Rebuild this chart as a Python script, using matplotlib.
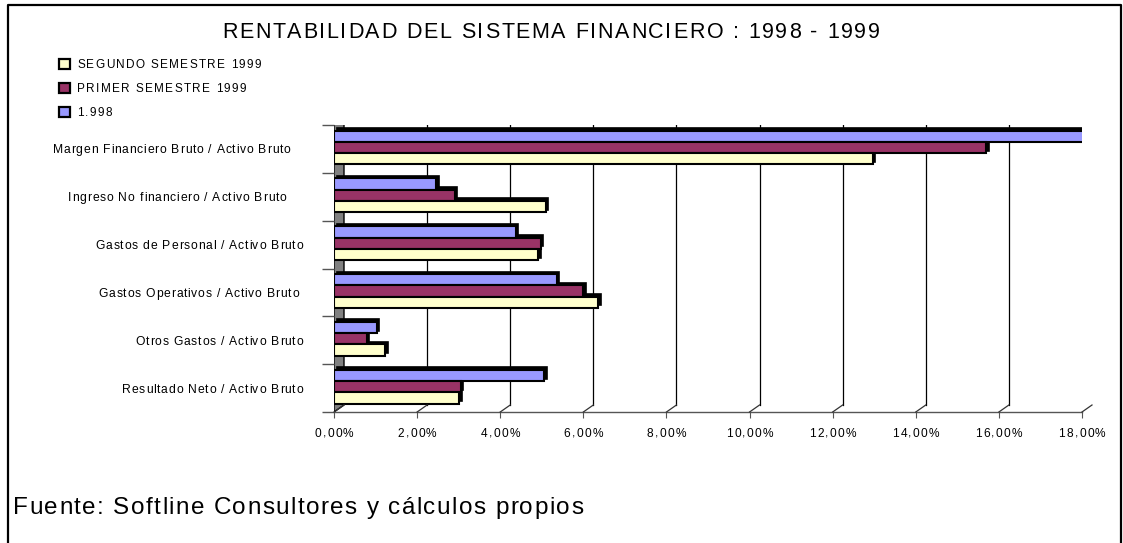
import matplotlib
matplotlib.use("Agg")
from matplotlib import pyplot as plt
from matplotlib.transforms import ScaledTranslation
from matplotlib.font_manager import FontProperties
import matplotlib.patches as mpatches
import numpy as np

categories = [
    "Margen Financiero Bruto / Activo Bruto   ",
    "Ingreso No financiero / Activo Bruto    ",
    "Gastos de Personal / Activo Bruto",
    "Gastos Operativos / Activo Bruto ",
    "Otros Gastos / Activo Bruto",
    "Resultado Neto / Activo Bruto",
]
series_names = ["SEGUNDO SEMESTRE 1999", "PRIMER SEMESTRE 1999", "1.998"]
segundo_1999 = [12.97, 5.10, 4.92, 6.36, 1.23, 3.01]
primer_1999 = [15.70, 2.90, 4.97, 6.00, 0.79, 3.05]
anio_1998 = [18.05, 2.46, 4.37, 5.36, 1.03, 5.06]
xticks = [0, 2, 4, 6, 8, 10, 12, 14, 16, 18]
title = "RENTABILIDAD DEL SISTEMA FINANCIERO : 1998 - 1999"
source = "Fuente: Softline Consultores y cálculos propios"

colours = ["#FFFFCC", "#993366", "#9999FF"]

W, H = 1123, 543
fig = plt.figure(figsize=(W / 100, H / 100), dpi=100)
renderer = fig.canvas.get_renderer()

def font(size):
    return FontProperties(family='Liberation Sans', size=size)

def advances(s, fp):
    base = renderer.get_text_width_height_descent('ii', fp, ismath=False)[0]
    return [renderer.get_text_width_height_descent('i' + c + 'i', fp, ismath=False)[0] - base
            for c in s]

def track_for(s, size, width):
    adv = advances(s, font(size))
    return max(0, (width - sum(adv)) / (len(s) - 1))

def tracked(x, y, s, size, track, ha='left'):
    # text with extra letter spacing; x, y in pixels from top-left, y = baseline
    fp = font(size)
    adv = advances(s, fp)
    total = sum(adv) + track * (len(s) - 1)
    if ha == 'center':
        x -= total / 2
    elif ha == 'right':
        x -= total
    for c, a in zip(s, adv):
        if c != ' ':
            fig.text(x / W, 1 - y / H, c, fontproperties=fp, ha='left', va='baseline')
        x += a + track

# outer border (top, left, right)
fig.add_artist(plt.Line2D([8 / W, 8 / W, 1121 / W, 1121 / W],
                          [0, 1 - 5 / H, 1 - 5 / H, 0],
                          transform=fig.transFigure, color='black', lw=1.6))

ax = fig.add_axes([334 / W, 131 / H, 748 / W, 287 / H])
ax.set_xlim(0, 18)
ax.set_ylim(5.5, -0.5)
for s in ['top', 'right', 'left']:
    ax.spines[s].set_visible(False)
ax.spines['bottom'].set_color('#555555')
ax.spines['bottom'].set_linewidth(1.0)
ax.patch.set_alpha(0)

dx, dy = 10 / 100, 7 / 100  # back-plane offset in inches
xax = ax.get_xaxis_transform()
back_axes = xax + ScaledTranslation(dx, dy, fig.dpi_scale_trans)

# back wall grid lines + floor diagonals
for xv in xticks[1:]:
    ax.plot([xv, xv], [0, 1], transform=back_axes, color='black', lw=0.9, zorder=0.5)
for xv in xticks:
    p0 = xax.transform((xv, 0))
    p1 = back_axes.transform((xv, 0))
    fig.add_artist(plt.Line2D([p0[0] / W, p1[0] / W], [p0[1] / H, p1[1] / H],
                              transform=fig.transFigure, color='#333333', lw=0.9))

# left wall (grey), under the bars
f0 = xax.transform([(0, 0), (0, 1)])
b0 = back_axes.transform([(0, 0), (0, 1)])
wall = mpatches.Polygon([f0[0], f0[1], b0[1], b0[0]], closed=True, transform=None,
                        facecolor='#808080', edgecolor='black', lw=1.0, zorder=1)
ax.add_artist(wall)

# bars
h = 0.235
y = np.arange(len(categories))
data = [anio_1998, primer_1999, segundo_1999]
cols = [colours[2], colours[1], colours[0]]
offs = [-h - 0.03, -0.03, h - 0.03]
shadow = ax.transData + ScaledTranslation(2.5 / 100, 2.5 / 100, fig.dpi_scale_trans)
for vals, c, o in zip(data, cols, offs):
    sb = ax.barh(y + o, vals, height=h, color='black', edgecolor='black', lw=1.2, zorder=2)
    for p in sb:
        p.set_transform(shadow)
    ax.barh(y + o, vals, height=h, color=c, edgecolor='black', lw=1.5, zorder=3)

# ticks (labels drawn as spaced text below)
ax.set_xticks(xticks)
ax.set_xticklabels([])
ax.tick_params(axis='x', length=4, direction='out', color='#555555')
ax.set_yticks(np.arange(-0.5, 6, 1), minor=True)
ax.set_yticks([])
ax.tick_params(axis='y', which='minor', length=9, color='#555555', width=1)

tick_labels = [f"{v:.2f}%".replace('.', ',') for v in xticks]
tt = track_for(tick_labels[-1], 8.6, 47)
for xv, lab in zip(xticks, tick_labels):
    xp = ax.transData.transform((xv, 0))[0]
    tracked(xp, 437, lab, 8.6, tt, ha='center')

ct = track_for(categories[0].rstrip(), 8.7, 238)
for yi, lab in zip(y, categories):
    yp = H - ax.transData.transform((0, yi))[1]
    tracked(303, yp + 4.5, lab, 8.7, ct, ha='right')

# title
tracked(551, 38, title, 15.5, track_for(title, 15.5, 658), ha='center')

# legend
lt = track_for(series_names[0], 8.5, 184)
for i, (name, c) in enumerate(zip(series_names, colours)):
    top = 58.5 + i * 24.3
    fig.add_artist(mpatches.Rectangle((59 / W, 1 - (top + 10) / H), 11 / W, 10 / H,
                                      facecolor=c, edgecolor='black', lw=1.6,
                                      transform=fig.transFigure))
    tracked(77, top + 9, name, 8.5, lt)

# source
tracked(13, 514, source, 17.5, track_for(source, 17.5, 570))

fig.savefig("out.png", dpi=100)
